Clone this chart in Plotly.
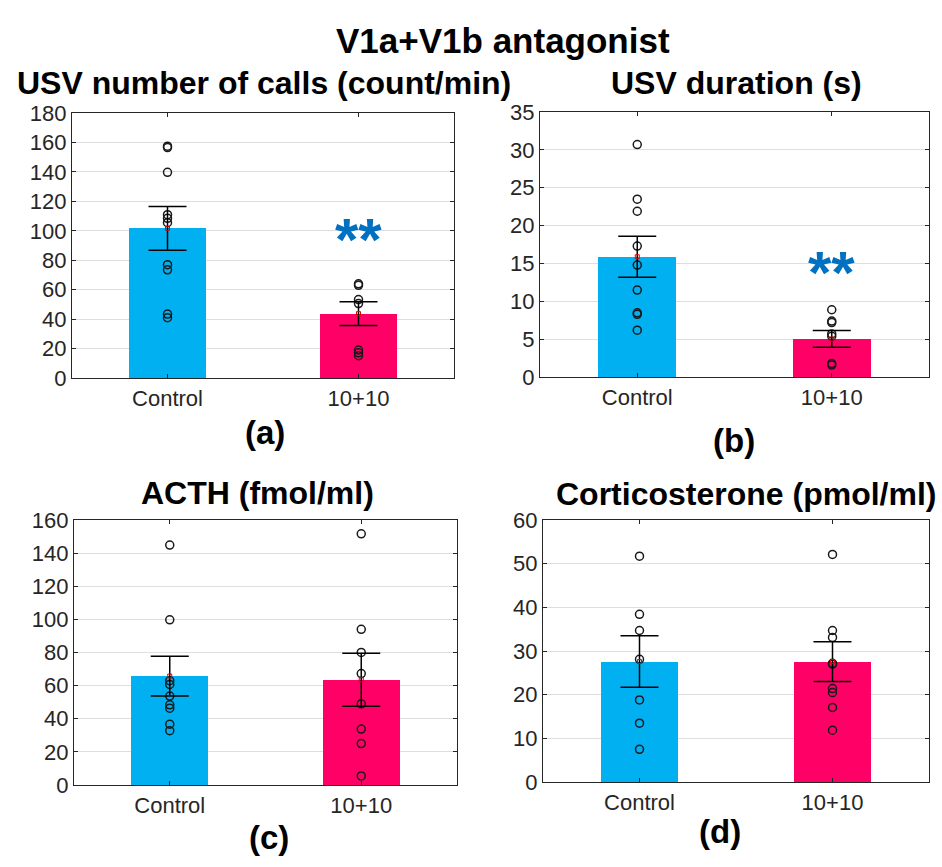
import plotly.graph_objects as go

# ---------------- data ----------------
categories = ["Control", "10+10"]
bar_colors = ["#00B0F0", "#FF0066"]

# (a) USV number of calls (count/min)
a_means = [101.7, 43.8]
a_sem = [14.9, 8.0]
a_control = [157.5, 156.5, 139.7, 111.0, 108.5, 105.5, 77.0, 73.5, 43.5, 41.0]
a_treated = [64.0, 63.0, 53.3, 50.6, 19.1, 17.2, 15.2]

# (b) USV duration (s)
b_means = [15.9, 5.05]
b_sem = [2.7, 1.1]
b_control = [30.7, 23.5, 21.9, 17.3, 14.8, 11.5, 8.5, 8.3, 6.2]
b_treated = [8.9, 7.4, 7.2, 5.7, 5.4, 1.8, 1.6]

# (c) ACTH (fmol/ml)
c_means = [65.8, 63.6]
c_sem = [12.0, 16.0]
c_control = [144.8, 99.7, 63.0, 60.7, 53.7, 48.4, 46.4, 36.7, 32.8]
c_treated = [151.6, 94.0, 80.0, 67.3, 49.0, 33.8, 25.0, 5.5]

# (d) Corticosterone (pmol/ml)
d_means = [27.6, 27.6]
d_sem = [5.9, 4.55]
d_control = [51.7, 38.4, 34.7, 28.1, 18.8, 13.5, 7.5]
d_treated = [52.1, 34.7, 33.1, 27.2, 27.0, 21.4, 20.5, 17.1, 11.9]

titles = ["USV number of calls (count/min)", "USV duration (s)",
          "ACTH (fmol/ml)", "Corticosterone (pmol/ml)"]
panel_labels = ["(a)", "(b)", "(c)", "(d)"]
y_max = [180, 35, 160, 60]
y_dtick = [20, 5, 20, 10]
stars = ["**", "**", "", ""]
star_y = [94.0, 13.8, 0, 0]
main_title = "V1a+V1b antagonist"

# --------------- layout geometry (pixels) ---------------
W, H = 942, 867
# plot area boxes: (left, right, top, bottom) in px
boxes = [(72, 454, 104, 377), (540, 929, 103, 376),
         (74, 457, 523, 796), (543, 929, 523, 793)]
title_pos = [(264, 73), (736, 73), (257, 495), (746, 496)]
label_pos = [(265, 433), (734, 441), (269, 850), (720, 844)]

means = [a_means, b_means, c_means, d_means]
sems = [a_sem, b_sem, c_sem, d_sem]
points = [(a_control, a_treated), (b_control, b_treated),
          (c_control, c_treated), (d_control, d_treated)]

FONT = "Liberation Sans, Arial, sans-serif"
AX = "#262626"

fig = go.Figure()
annotations = []
layout = {}

for i in range(4):
    n = "" if i == 0 else str(i + 1)
    xa, ya = "x" + n, "y" + n
    l, r, t, b = boxes[i]
    layout["xaxis" + n] = dict(
        domain=[l / W, r / W], anchor=ya, type="category",
        categoryorder="array", categoryarray=categories,
        range=[-0.5, 1.5], showline=True, linecolor=AX, linewidth=1.3,
        mirror="ticks", ticks="inside", ticklen=4, tickcolor=AX,
        showgrid=False, zeroline=False,
        tickfont=dict(family=FONT, size=22, color=AX))
    layout["yaxis" + n] = dict(
        domain=[1 - b / H, 1 - t / H], anchor=xa,
        range=[0, y_max[i]], dtick=y_dtick[i], showline=True,
        linecolor=AX, linewidth=1.3, mirror="ticks", ticks="inside",
        ticklen=4, tickcolor=AX, showgrid=True, gridcolor="#DEDEDE",
        gridwidth=1, zeroline=False,
        tickfont=dict(family=FONT, size=22, color=AX))

    fig.add_trace(go.Bar(x=categories, y=means[i], width=0.4,
                         marker=dict(color=bar_colors, line=dict(width=0)),
                         xaxis=xa, yaxis=ya, showlegend=False))
    for cat, pts in zip(categories, points[i]):
        fig.add_trace(go.Scatter(
            x=[cat] * len(pts), y=pts, mode="markers", xaxis=xa, yaxis=ya,
            marker=dict(symbol="circle-open", size=8, color="#1A1A1A",
                        line=dict(width=1.5)),
            showlegend=False))
    fig.add_trace(go.Scatter(
        x=categories, y=means[i], mode="markers", xaxis=xa, yaxis=ya,
        marker=dict(symbol="square-open", size=4, color="#E00000",
                    line=dict(width=1)),
        error_y=dict(type="data", array=sems[i], color="#000000",
                     thickness=1.5, width=19),
        showlegend=False))

    if stars[i]:
        annotations.append(dict(
            text=stars[i], x=categories[1], y=star_y[i], xref=xa, yref=ya,
            showarrow=False, yanchor="middle", xanchor="center",
            font=dict(family=FONT, size=60, color="#0070C0", weight="bold")))

    tx, ty = title_pos[i]
    annotations.append(dict(
        text="<b>" + titles[i] + "</b>", x=tx / W, y=1 - ty / H,
        xref="paper", yref="paper", showarrow=False,
        xanchor="center", yanchor="middle",
        font=dict(family=FONT, size=32, color="#000000")))
    lx, ly = label_pos[i]
    annotations.append(dict(
        text="<b>" + panel_labels[i] + "</b>", x=lx / W, y=1 - ly / H,
        xref="paper", yref="paper", showarrow=False,
        xanchor="center", yanchor="middle",
        font=dict(family=FONT, size=33, color="#000000")))

annotations.append(dict(
    text="<b>" + main_title + "</b>", x=503 / W, y=1 - 29 / H,
    xref="paper", yref="paper", showarrow=False,
    xanchor="center", yanchor="middle",
    font=dict(family=FONT, size=35, color="#000000")))

fig.update_layout(
    width=W, height=H, margin=dict(l=0, r=0, t=0, b=0),
    paper_bgcolor="white", plot_bgcolor="white",
    annotations=annotations, bargap=0, **layout)

fig.write_html("out.html")
